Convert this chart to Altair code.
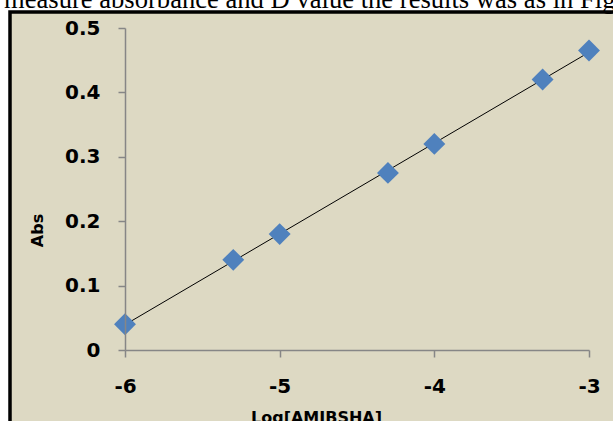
import altair as alt
import pandas as pd

# Calibration series: absorbance against log concentration
log_conc = [-6.0, -5.3, -5.0, -4.3, -4.0, -3.3, -3.0]
absorbance = [0.04, 0.14, 0.18, 0.275, 0.32, 0.42, 0.465]

x_ticks = [-6, -5, -4, -3]
y_ticks = [0, 0.1, 0.2, 0.3, 0.4, 0.5]

caption = "measure absorbance and D value the results was as in Fig. 5"

data = pd.DataFrame({"logc": log_conc, "abs": absorbance})
one_row = pd.DataFrame({"k": [0]})

BEIGE = "#DDD9C3"
BLUE = "#4F81BD"
AXIS_GREY = "#868686"

x_scale = alt.Scale(domain=[-6, -3], nice=False, zero=False)
y_scale = alt.Scale(domain=[0, 0.5], nice=False)

# chart-area frame (beige panel with black border)
frame = alt.Chart(one_row).mark_rect(
    fill=BEIGE, stroke="black", strokeWidth=3.5
).encode(
    x=alt.value(-115), x2=alt.value(510),
    y=alt.value(-16), y2=alt.value(415),
)

# running text of the page above the chart
header = alt.Chart(one_row).mark_text(
    font="Liberation Serif", fontSize=26.6, align="left", baseline="alphabetic",
    color="black",
).encode(
    x=alt.value(-121), y=alt.value(-20), text=alt.value(caption)
)

x_enc = alt.X(
    "logc:Q", scale=x_scale,
    axis=alt.Axis(
        values=x_ticks, labelExpr="'' + datum.value", title="Log[AMIBSHA]",
        titleX=191, titleY=72, titleBaseline="alphabetic", titleAlign="center",
        labelPadding=19, labelFlush=False, zindex=1,
    ),
)
y_enc = alt.Y(
    "abs:Q", scale=y_scale,
    axis=alt.Axis(
        values=y_ticks, format=".1~f", title="Abs",
        titleX=-83, titleY=202, titleAngle=270, titleBaseline="alphabetic",
        titleAlign="center", labelPadding=18, labelFlush=False, zindex=1,
    ),
)

trend = alt.Chart(data).transform_regression(
    "logc", "abs", method="linear"
).mark_line(color="black", strokeWidth=1).encode(x=x_enc, y=y_enc)

points = alt.Chart(data).mark_point(
    shape="diamond", filled=True, size=480, color=BLUE, opacity=1
).encode(x=x_enc, y=y_enc)

chart = alt.layer(frame, header, trend, points).properties(
    width=464, height=322,
    autosize=alt.AutoSizeParams(type="none"),
    padding={"left": 125, "top": 28, "right": 24, "bottom": 71},
    background="white",
).configure_view(
    stroke=None
).configure_axis(
    grid=False,
    domainColor=AXIS_GREY, domainWidth=1.5,
    tickColor=AXIS_GREY, tickWidth=1.5, tickSize=7,
    labelFont="DejaVu Sans", labelFontWeight="bold", labelFontSize=20,
    labelColor="black",
    titleFont="DejaVu Sans", titleFontWeight="bold", titleFontSize=16,
    titleColor="black",
)

chart.save("out.html", embed_options={"renderer": "svg", "actions": False})
